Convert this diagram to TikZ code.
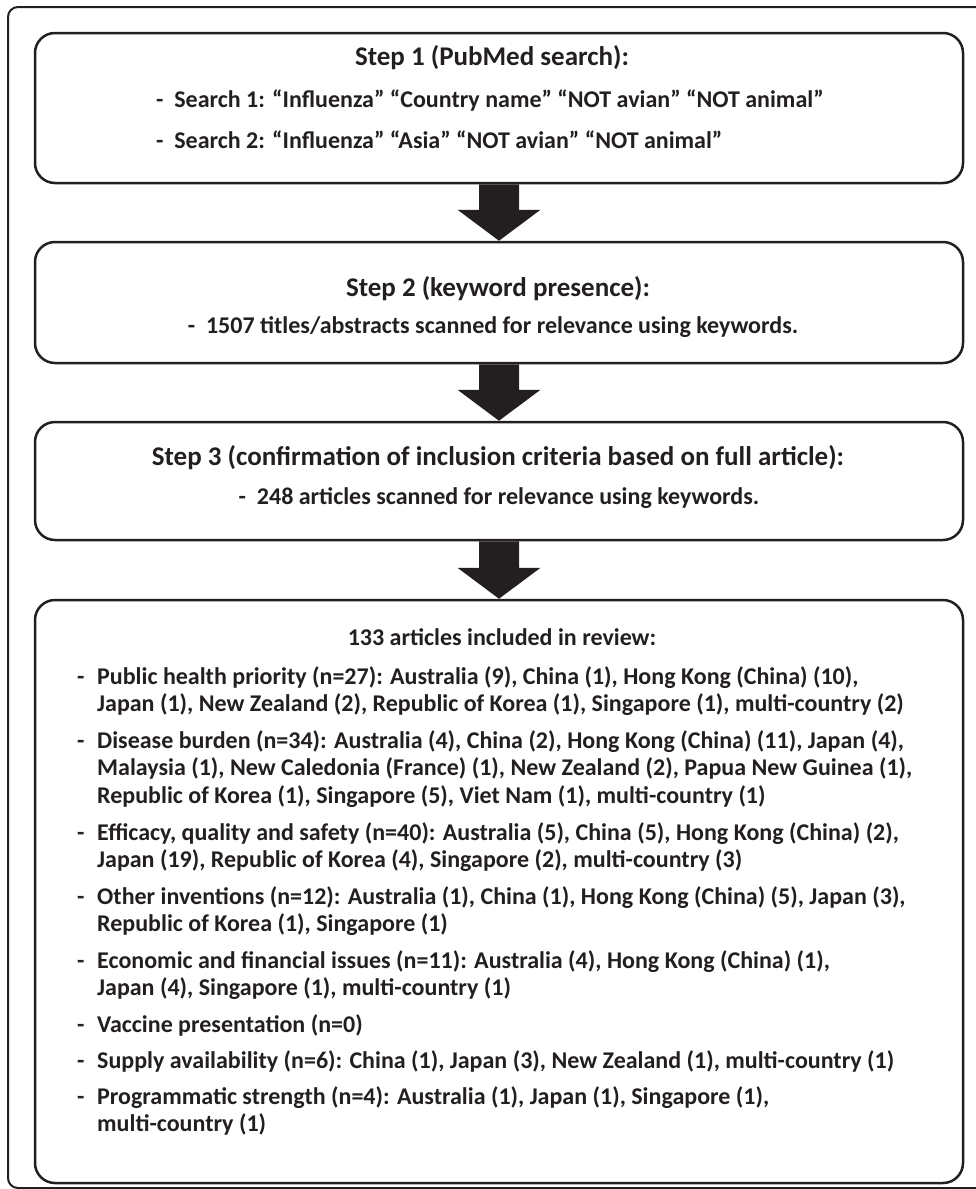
\documentclass[tikz,border=0pt]{standalone}
\usepackage{fontspec}
\setmainfont{Carlito}
\usetikzlibrary{positioning,calc}

\definecolor{ink}{HTML}{231F20}

\tikzset{
    stepbox/.style={draw=ink, line width=2.5pt, rounded corners=20pt, minimum width=928pt, inner sep=0pt},
    txt/.style={font=\bfseries\fontsize{24}{27.5}\selectfont, text=ink, inner sep=0pt},
    steptitle/.style={txt, font=\bfseries\fontsize{27}{30}\selectfont, anchor=base},
    itemtxt/.style={txt, anchor=base west, align=left},
}

\begin{document}
\begin{tikzpicture}[x=1pt, y=-1pt]
            \useasboundingbox (0,0) rectangle (975,1189);
            \draw[ink, line width=2pt, rounded corners=10pt] (8,7) rectangle (995,1188);

            \node[stepbox, minimum height=150pt] (search) at (499, 108) {};
            \node[stepbox, minimum height=121pt] (keyword) at (499, 302.5) {};
            \node[stepbox, minimum height=118pt] (incl) at (499, 481) {};
            \node[stepbox, minimum height=583pt] (review) at (499, 891.5) {};

            \node[steptitle] (t1) at (492, 65) {Step 1 (PubMed search):};
            \node[txt, anchor=base west] (s1) at (156, 107) {-\ \ Search 1: “Influenza” “Country name” “NOT avian” “NOT animal”};
            \node[txt, anchor=base west] (s2) at (156, 148) {-\ \ Search 2: “Influenza” “Asia” “NOT avian” “NOT animal”};

            \node[steptitle] (t2) at (498, 296) {Step 2 (keyword presence):};
            \node[txt, anchor=base] (k1) at (493, 333) {-\ \ 1507 titles/abstracts scanned for relevance using keywords.};

            \node[steptitle] (t3) at (498, 465) {Step 3 (confirmation of inclusion criteria based on full article):};
            \node[txt, anchor=base] (c1) at (499, 504) {-\ \ 248 articles scanned for relevance using keywords.};

            \node[txt, anchor=base] (t4) at (502, 645) {133 articles included in review:};

            % base of a multi-line node is its last line
            \node[itemtxt] (d1) at (77, 684) {-};
            \node[itemtxt] (r1) at (97, 711.5) {Public health priority (n=27): Australia (9), China (1), Hong Kong (China) (10),\\Japan (1), New Zealand (2), Republic of Korea (1), Singapore (1), multi-country (2)};
            \node[itemtxt] (d2) at (77, 748) {-};
            \node[itemtxt] (r2) at (97, 803) {Disease burden (n=34): Australia (4), China (2), Hong Kong (China) (11), Japan (4),\\Malaysia (1), New Caledonia (France) (1), New Zealand (2), Papua New Guinea (1),\\Republic of Korea (1), Singapore (5), Viet Nam (1), multi-country (1)};
            \node[itemtxt] (d3) at (77, 840) {-};
            \node[itemtxt] (r3) at (97, 867.5) {Efficacy, quality and safety (n=40): Australia (5), China (5), Hong Kong (China) (2),\\Japan (19), Republic of Korea (4), Singapore (2), multi-country (3)};
            \node[itemtxt] (d4) at (77, 904) {-};
            \node[itemtxt] (r4) at (97, 931.5) {Other inventions (n=12): Australia (1), China (1), Hong Kong (China) (5), Japan (3),\\Republic of Korea (1), Singapore (1)};
            \node[itemtxt] (d5) at (77, 968) {-};
            \node[itemtxt] (r5) at (97, 995.5) {Economic and financial issues (n=11): Australia (4), Hong Kong (China) (1),\\Japan (4), Singapore (1), multi-country (1)};
            \node[itemtxt] (d6) at (77, 1032) {-};
            \node[itemtxt] (r6) at (97, 1032) {Vaccine presentation (n=0)};
            \node[itemtxt] (d7) at (77, 1068) {-};
            \node[itemtxt] (r7) at (97, 1068) {Supply availability (n=6): China (1), Japan (3), New Zealand (1), multi-country (1)};
            \node[itemtxt] (d8) at (77, 1104) {-};
            \node[itemtxt] (r8) at (97, 1131.5) {Programmatic strength (n=4): Australia (1), Japan (1), Singapore (1),\\multi-country (1)};

            % block arrows between the steps
            \foreach \a/\b in {search/keyword, keyword/incl, incl/review}
                \fill[ink] ($(\a.south)+(-20,0)$) -- ($(\b.north)+(-20,-31)$) -- ($(\b.north)+(-41.5,-31)$) -- (\b.north)
                    -- ($(\b.north)+(41.5,-31)$) -- ($(\b.north)+(20,-31)$) -- ($(\a.south)+(20,0)$) -- cycle;

\end{tikzpicture}
\end{document}
